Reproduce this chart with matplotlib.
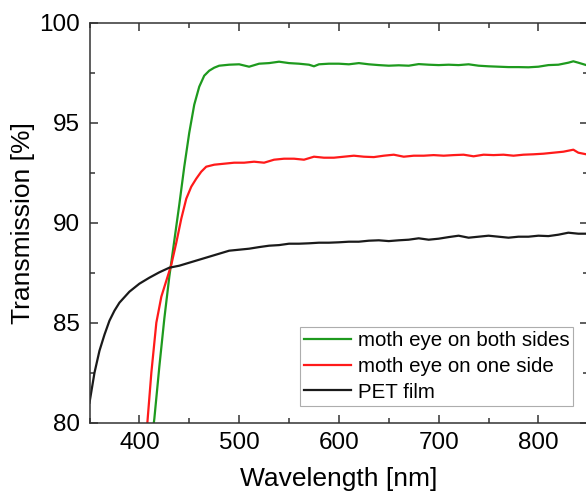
import matplotlib
matplotlib.use("Agg")
import matplotlib.pyplot as plt
from matplotlib.ticker import MultipleLocator

plt.rcParams['font.family'] = ['Liberation Sans', 'DejaVu Sans']

# PET film
wl_pet = [350, 355, 360, 365, 370, 375, 380, 390, 400, 410, 420, 430, 440, 450, 460, 470,
          480, 490, 500, 510, 520, 530, 540, 550, 560, 570, 580, 590, 600, 610, 620, 630,
          640, 650, 660, 670, 680, 690, 700, 710, 720, 730, 740, 750, 760, 770, 780, 790,
          800, 810, 820, 830, 840, 850]
t_pet = [81.0, 82.5, 83.6, 84.4, 85.1, 85.6, 86.0, 86.55, 86.95, 87.25, 87.52, 87.75, 87.85,
         88.0, 88.15, 88.3, 88.45, 88.6, 88.65, 88.7, 88.78, 88.85, 88.88, 88.95, 88.95,
         88.97, 89.0, 89.0, 89.02, 89.05, 89.05, 89.1, 89.12, 89.08, 89.12, 89.15, 89.22,
         89.15, 89.2, 89.28, 89.35, 89.25, 89.3, 89.35, 89.3, 89.25, 89.3, 89.3, 89.35,
         89.33, 89.4, 89.5, 89.45, 89.45]

# moth eye on one side
wl_one = [405, 408, 412, 417, 422, 427, 432, 437, 442, 447, 452, 457, 462, 467, 475, 485,
          495, 505, 515, 525, 535, 545, 555, 565, 575, 585, 595, 605, 615, 625, 635, 645,
          655, 665, 675, 685, 695, 705, 715, 725, 735, 745, 755, 765, 775, 785, 795, 805,
          815, 825, 835, 840, 850]
t_one = [78.5, 80.0, 82.5, 85.0, 86.3, 87.1, 87.9, 89.0, 90.2, 91.2, 91.8, 92.2, 92.55,
         92.8, 92.9, 92.95, 93.0, 93.0, 93.05, 93.0, 93.15, 93.2, 93.2, 93.15, 93.3, 93.25,
         93.25, 93.3, 93.35, 93.3, 93.28, 93.35, 93.4, 93.3, 93.35, 93.35, 93.38, 93.35,
         93.38, 93.4, 93.32, 93.4, 93.38, 93.4, 93.35, 93.4, 93.42, 93.45, 93.5, 93.55,
         93.65, 93.5, 93.4]

# moth eye on both sides
wl_both = [410, 415, 420, 425, 430, 435, 440, 445, 450, 455, 460, 465, 470, 475, 480, 490,
           500, 510, 520, 530, 540, 550, 560, 570, 575, 580, 590, 600, 610, 620, 630, 640,
           650, 660, 670, 680, 690, 700, 710, 720, 730, 740, 750, 760, 770, 780, 790, 800,
           810, 820, 830, 835, 840, 850]
t_both = [78.2, 80.2, 82.8, 85.2, 87.3, 89.1, 90.9, 92.8, 94.5, 95.9, 96.8, 97.35, 97.6,
          97.75, 97.85, 97.9, 97.92, 97.8, 97.95, 97.98, 98.05, 97.98, 97.95, 97.9, 97.82,
          97.92, 97.95, 97.95, 97.92, 97.98, 97.92, 97.88, 97.85, 97.87, 97.85, 97.93, 97.9,
          97.88, 97.9, 97.88, 97.92, 97.85, 97.82, 97.8, 97.78, 97.78, 97.77, 97.8, 97.88,
          97.9, 98.0, 98.07, 98.0, 97.85]

labels = ['moth eye on both sides', 'moth eye on one side', 'PET film']
colors = ['#1e9a1e', '#ff1a1a', '#1a1a1a']

W, H = 586, 497
fig = plt.figure(figsize=(W / 100, H / 100), dpi=100)
ax = fig.add_axes([89.5 / W, 74.3 / H, 498.8 / W, 400 / H])

ax.plot(wl_both, t_both, color=colors[0], lw=1.6, label=labels[0])
ax.plot(wl_one, t_one, color=colors[1], lw=1.6, label=labels[1])
ax.plot(wl_pet, t_pet, color=colors[2], lw=1.6, label=labels[2])

ax.set_xlim(350, 850)
ax.set_ylim(80, 100)
ax.xaxis.set_major_locator(MultipleLocator(100))
ax.xaxis.set_minor_locator(MultipleLocator(50))
ax.yaxis.set_major_locator(MultipleLocator(5))
ax.yaxis.set_minor_locator(MultipleLocator(2.5))
ax.tick_params(which='both', direction='in', top=True, right=True, color='#333333', width=1.1)
ax.tick_params(which='major', length=6, labelsize=17.5, pad=7)
ax.tick_params(which='minor', length=3.5)
for s in ax.spines.values():
    s.set_color('#333333')
    s.set_linewidth(1.1)

ax.set_xlabel('Wavelength [nm]', fontsize=19, labelpad=9)
ax.set_ylabel('Transmission [%]', fontsize=19, labelpad=3)

leg = ax.legend(loc='upper left', bbox_to_anchor=(300 / W, 1 - 327 / H),
                bbox_transform=fig.transFigure, fontsize=14.8, frameon=True,
                fancybox=False, borderaxespad=0, handlelength=2.3, handletextpad=0.3,
                labelspacing=0.33, borderpad=0.2)
leg.get_frame().set_edgecolor('#999999')
leg.get_frame().set_linewidth(0.8)

fig.savefig('out.png', dpi=100)
